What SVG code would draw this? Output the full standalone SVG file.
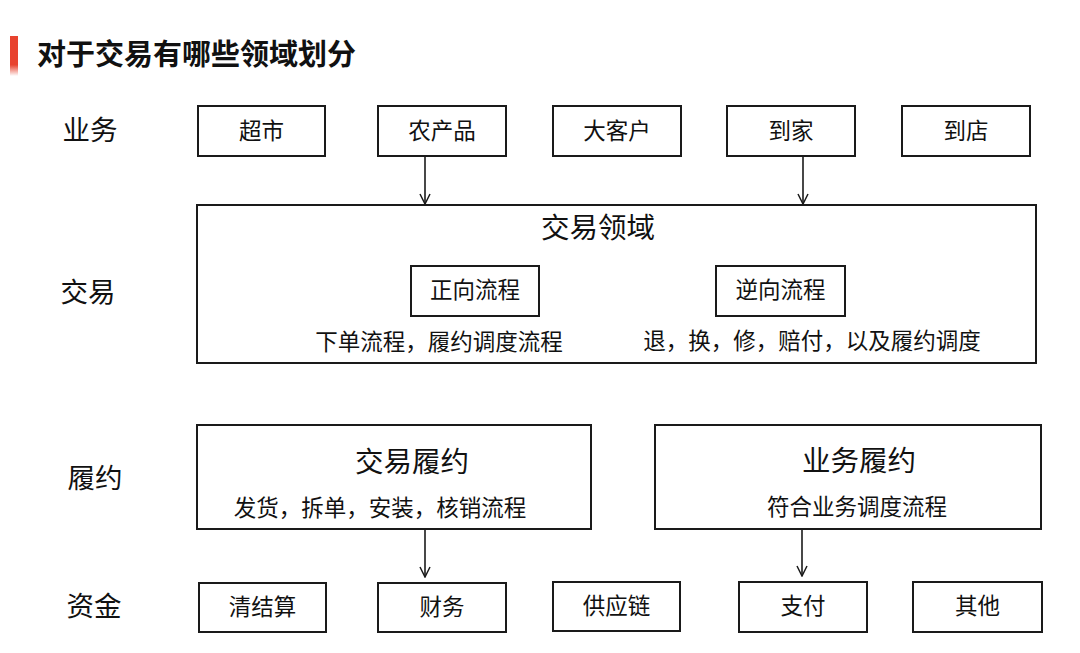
<svg xmlns="http://www.w3.org/2000/svg" width="1080" height="653" viewBox="0 0 1080 653">
<defs>
<linearGradient id="barFade" x1="0" y1="0" x2="0" y2="1">
<stop offset="0" stop-color="#e8432f"/>
<stop offset="0.72" stop-color="#e8432f"/>
<stop offset="1" stop-color="#e8432f" stop-opacity="0"/>
</linearGradient>
<marker id="arr" viewBox="0 0 12 12" refX="11" refY="6" markerWidth="12" markerHeight="12" markerUnits="userSpaceOnUse" orient="auto">
<path d="M1,1 L11,6 L1,11" fill="none" stroke="#1a1a1a" stroke-width="1.5"/>
</marker>
</defs>
<style>
text{font-family:"Noto Sans CJK SC","Noto Sans",sans-serif;fill:#111;text-anchor:middle}
.box{fill:#fff;stroke:#1a1a1a;stroke-width:2}
.lbl{font-size:22.5px}
.row{font-size:27.5px}
.big{font-size:28.5px}
.conn{stroke:#1a1a1a;stroke-width:1.6;fill:none}
</style>
<rect width="1080" height="653" fill="#fff"/>
<rect x="10" y="36" width="8" height="40" fill="url(#barFade)"/>
<text x="37" y="65" style="font-size:29px;font-weight:bold;text-anchor:start">对于交易有哪些领域划分</text>

<g id="row-labels">
<text class="row" x="90" y="140">业务</text>
<text class="row" x="88" y="302">交易</text>
<text class="row" x="95" y="488">履约</text>
<text class="row" x="94" y="616">资金</text>
</g>

<g id="n-chaoshi"><rect class="box" x="198" y="106" width="127" height="50"/><text class="lbl" x="261.5" y="139">超市</text></g>
<g id="n-nongchanpin"><rect class="box" x="378" y="106" width="128" height="50"/><text class="lbl" x="442" y="139">农产品</text></g>
<g id="n-dakehu"><rect class="box" x="553" y="106" width="128" height="50"/><text class="lbl" x="617" y="139">大客户</text></g>
<g id="n-daojia"><rect class="box" x="727" y="106" width="128" height="50"/><text class="lbl" x="791" y="139">到家</text></g>
<g id="n-daodian"><rect class="box" x="902" y="106" width="128" height="50"/><text class="lbl" x="966" y="139">到店</text></g>

<g id="n-jiaoyilingyu">
<rect class="box" x="197" y="205" width="839" height="158"/>
<text class="big" x="598" y="238">交易领域</text>
</g>
<g id="n-zhengxiang">
<rect class="box" x="411" y="266" width="128" height="50"/><text class="lbl" x="475" y="298">正向流程</text>
<text class="lbl" x="439" y="350">下单流程，履约调度流程</text>
</g>
<g id="n-nixiang">
<rect class="box" x="716" y="266" width="129" height="50"/><text class="lbl" x="780.5" y="298">逆向流程</text>
<text class="lbl" x="812" y="349">退，换，修，赔付，以及履约调度</text>
</g>

<g id="n-jiaoyilvyue">
<rect class="box" x="197" y="425" width="394" height="104"/>
<text class="big" x="412" y="472">交易履约</text>
<text class="lbl" x="380" y="516">发货，拆单，安装，核销流程</text>
</g>
<g id="n-yewulvyue">
<rect class="box" x="655" y="425" width="386" height="104"/>
<text class="big" x="859" y="471">业务履约</text>
<text class="lbl" x="857" y="515">符合业务调度流程</text>
</g>

<g id="n-qingjiesuan"><rect class="box" x="199" y="583" width="127" height="49"/><text class="lbl" x="262.5" y="615">清结算</text></g>
<g id="n-caiwu"><rect class="box" x="378" y="583" width="128" height="49"/><text class="lbl" x="442" y="615">财务</text></g>
<g id="n-gongyinglian"><rect class="box" x="553" y="582" width="127" height="49"/><text class="lbl" x="616.5" y="614">供应链</text></g>
<g id="n-zhifu"><rect class="box" x="739" y="582" width="128" height="50"/><text class="lbl" x="803" y="614">支付</text></g>
<g id="n-qita"><rect class="box" x="913" y="582" width="129" height="50"/><text class="lbl" x="977.5" y="614">其他</text></g>

<g id="connectors">
<line class="conn" x1="425" y1="157" x2="425" y2="204" marker-end="url(#arr)"/>
<line class="conn" x1="803" y1="157" x2="803" y2="204" marker-end="url(#arr)"/>
<line class="conn" x1="425" y1="530" x2="425" y2="577" marker-end="url(#arr)"/>
<line class="conn" x1="802" y1="530" x2="802" y2="576" marker-end="url(#arr)"/>
</g>
</svg>
